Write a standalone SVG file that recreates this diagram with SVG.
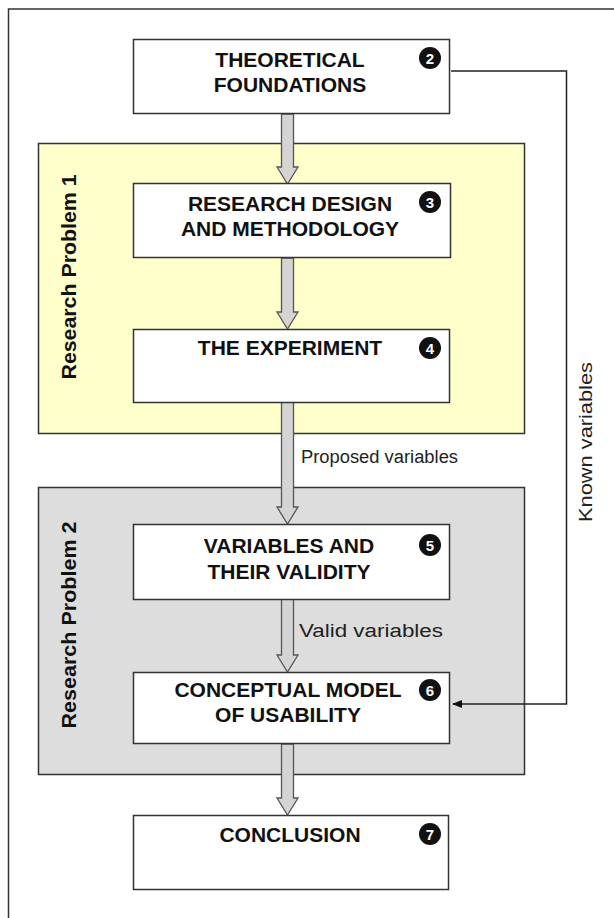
<svg xmlns="http://www.w3.org/2000/svg" width="614" height="918" viewBox="0 0 614 918">
<defs>
<style>
.box{fill:#ffffff;stroke:#333333;stroke-width:1.5}
.title{font-family:"Liberation Sans",Arial,sans-serif;font-weight:bold;font-size:21px;fill:#111111;text-anchor:middle}
.num{font-family:"Liberation Sans",Arial,sans-serif;font-weight:bold;font-size:15px;fill:#ffffff;text-anchor:middle}
.lbl{font-family:"Liberation Sans",Arial,sans-serif;font-size:18px;fill:#222222}
.grp{font-family:"Liberation Sans",Arial,sans-serif;font-weight:bold;font-size:20px;fill:#111111;text-anchor:middle}
.blk{fill:#d4d4d4;stroke:#555555;stroke-width:1.3;stroke-linejoin:miter}
.line{fill:none;stroke:#222222;stroke-width:1.5}
</style>
<marker id="ah" markerWidth="10" markerHeight="8" refX="9" refY="4" orient="auto" markerUnits="userSpaceOnUse">
<path d="M0,0 L10,4 L0,8 Z" fill="#111111"/>
</marker>
</defs>
<rect width="614" height="918" fill="#ffffff"/>
<path d="M8.5,918 V9 H614" fill="none" stroke="#333333" stroke-width="1.5"/>

<g id="group-rp1">
<rect x="38.5" y="143.5" width="486" height="290" fill="#ffffcc" stroke="#333333" stroke-width="1.5"/>
<text class="grp" transform="translate(76,277) rotate(-90)" textLength="205" lengthAdjust="spacingAndGlyphs">Research Problem 1</text>
</g>
<g id="group-rp2">
<rect x="38.5" y="487.5" width="486" height="287" fill="#dddddd" stroke="#333333" stroke-width="1.5"/>
<text class="grp" transform="translate(76,625) rotate(-90)" textLength="207" lengthAdjust="spacingAndGlyphs">Research Problem 2</text>
</g>

<g id="connectors">
<polygon class="blk" points="281.5,114 293.5,114 293.5,167 298,167 287.5,184 277,167 281.5,167"/>
<polygon class="blk" points="281.5,258 293.5,258 293.5,312 298,312 287.5,329 277,312 281.5,312"/>
<polygon class="blk" points="281.5,402 293.5,402 293.5,507 298,507 287.5,524 277,507 281.5,507"/>
<polygon class="blk" points="281.5,599 293.5,599 293.5,655 298,655 287.5,672 277,655 281.5,655"/>
<polygon class="blk" points="281.5,744 293.5,744 293.5,798 298,798 287.5,815 277,798 281.5,798"/>
<path class="line" d="M451,71 H566.5 V704 H453" marker-end="url(#ah)"/>
<text class="lbl" x="301" y="463" textLength="157" lengthAdjust="spacingAndGlyphs">Proposed variables</text>
<text class="lbl" x="299" y="637" textLength="144" lengthAdjust="spacingAndGlyphs">Valid variables</text>
<text class="lbl" transform="translate(592,442) rotate(-90)" text-anchor="middle" textLength="160" lengthAdjust="spacingAndGlyphs">Known variables</text>
</g>

<g id="n2">
<rect class="box" x="133.5" y="39.5" width="316" height="74"/>
<text class="title" x="290" y="67">THEORETICAL</text>
<text class="title" x="290" y="92">FOUNDATIONS</text>
<circle cx="430" cy="58" r="11" fill="#111111"/>
<text class="num" x="430" y="63.5">2</text>
</g>
<g id="n3">
<rect class="box" x="133.5" y="183.5" width="317" height="74"/>
<text class="title" x="290" y="211">RESEARCH DESIGN</text>
<text class="title" x="290" y="236">AND METHODOLOGY</text>
<circle cx="430" cy="202" r="11" fill="#111111"/>
<text class="num" x="430" y="207.5">3</text>
</g>
<g id="n4">
<rect class="box" x="133.5" y="329.5" width="316" height="73"/>
<text class="title" x="290" y="355">THE EXPERIMENT</text>
<circle cx="430" cy="348" r="11" fill="#111111"/>
<text class="num" x="430" y="353.5">4</text>
</g>
<g id="n5">
<rect class="box" x="133.5" y="524.5" width="316" height="75"/>
<text class="title" x="289" y="553">VARIABLES AND</text>
<text class="title" x="289" y="579">THEIR VALIDITY</text>
<circle cx="430" cy="545" r="11" fill="#111111"/>
<text class="num" x="430" y="550.5">5</text>
</g>
<g id="n6">
<rect class="box" x="133.5" y="672.5" width="316" height="71"/>
<text class="title" x="288" y="697">CONCEPTUAL MODEL</text>
<text class="title" x="288" y="722">OF USABILITY</text>
<circle cx="430" cy="690" r="11" fill="#111111"/>
<text class="num" x="430" y="695.5">6</text>
</g>
<g id="n7">
<rect class="box" x="133.5" y="815.5" width="315" height="74"/>
<text class="title" x="290" y="842">CONCLUSION</text>
<circle cx="430" cy="834" r="11" fill="#111111"/>
<text class="num" x="430" y="839.5">7</text>
</g>
</svg>
